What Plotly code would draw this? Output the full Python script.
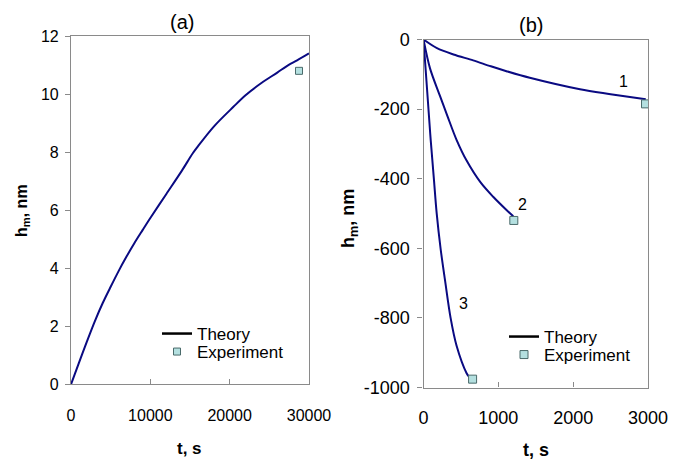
import plotly.graph_objects as go

# Panel (a): growth of h_m with time
t_a = [0, 1000, 2000, 3000, 4000, 5000, 6000, 7000, 8000, 9040, 10000,
       12000, 14000, 15350, 16000, 18000, 20470, 22000, 24000, 26000,
       27400, 28500, 30000]
h_a = [0, 0.74, 1.47, 2.17, 2.8, 3.36, 3.9, 4.4, 4.87, 5.32, 5.73,
       6.55, 7.37, 7.96, 8.2, 8.88, 9.56, 9.96, 10.38, 10.74,
       11.0, 11.16, 11.4]
t_a_exp = [28740]
h_a_exp = [10.8]
x_ticks_a = [0, 10000, 20000, 30000]
y_ticks_a = [0, 2, 4, 6, 8, 10, 12]

# Panel (b): three theory curves with their end-point measurements
t_b1 = [0, 180, 400, 664, 900, 1109, 1420, 2091, 2500, 2970]
h_b1 = [0, -25, -43, -60, -77, -91, -110, -143, -157, -172]
t_b2 = [0, 87, 220, 320, 443, 576, 760, 931, 1109, 1200]
h_b2 = [0, -83, -162, -220, -289, -348, -410, -452, -490, -508]
t_b3 = [0, 91, 140, 176, 229, 287, 362, 442, 576, 607]
h_b3 = [0, -274, -404, -499, -602, -691, -800, -880, -959, -969]
t_b_exp = [2967, 1207, 656]
h_b_exp = [-185, -520, -976]
x_ticks_b = [0, 1000, 2000, 3000]
y_ticks_b = [0, -200, -400, -600, -800, -1000]

curve_labels = ["1", "2", "3"]
label_t = [2670, 1322, 531]
label_h = [-121, -473, -758]

W, H = 694, 459
NAVY = "#0a0a82"
FRAME = "#8a8a8a"
MK_FILL = "#b4e0e0"
MK_LINE = "#4a6a6a"
FONT = "Liberation Sans, Arial, sans-serif"


def px_x(p):
    return p / W


def px_y(p):
    return 1 - p / H


fig = go.Figure()

# ---- panel (a)
fig.add_trace(go.Scatter(x=t_a, y=h_a, mode="lines",
                         line=dict(color=NAVY, width=2, shape="spline", smoothing=0.9),
                         xaxis="x", yaxis="y", showlegend=False, hoverinfo="skip"))
fig.add_trace(go.Scatter(x=[None], y=[None], mode="lines", name="Theory",
                         line=dict(color="black", width=2.5), xaxis="x", yaxis="y",
                         legend="legend"))
fig.add_trace(go.Scatter(x=t_a_exp, y=h_a_exp, mode="markers", name="Experiment",
                         marker=dict(symbol="square", size=7, color=MK_FILL,
                                     line=dict(color=MK_LINE, width=1)),
                         xaxis="x", yaxis="y", legend="legend3"))

# ---- panel (b)
for tt, hh in [(t_b1, h_b1), (t_b2, h_b2), (t_b3, h_b3)]:
    fig.add_trace(go.Scatter(x=tt, y=hh, mode="lines",
                             line=dict(color=NAVY, width=2, shape="spline", smoothing=0.9),
                             xaxis="x2", yaxis="y2", showlegend=False, hoverinfo="skip"))
fig.add_trace(go.Scatter(x=[None], y=[None], mode="lines", name="Theory",
                         line=dict(color="black", width=2.5), xaxis="x2", yaxis="y2",
                         legend="legend2"))
fig.add_trace(go.Scatter(x=t_b_exp, y=h_b_exp, mode="markers", name="Experiment",
                         marker=dict(symbol="square", size=8, color=MK_FILL,
                                     line=dict(color=MK_LINE, width=1)),
                         xaxis="x2", yaxis="y2", legend="legend4"))


def axis(size, tick_values, **kw):
    # tick labels written with a plain hyphen for negatives
    base = dict(showline=True, mirror=True, linecolor=FRAME, linewidth=1.2,
                showgrid=False, zeroline=False, tickcolor=FRAME, ticklen=5,
                automargin=False, tickmode="array", tickvals=tick_values,
                ticktext=[str(v) for v in tick_values],
                tickfont=dict(family=FONT, size=size, color="black"))
    base.update(kw)
    return base


def legend_at(x, y):
    return dict(x=px_x(x), y=px_y(y), xanchor="left", yanchor="middle",
                bgcolor="rgba(0,0,0,0)", font=dict(family=FONT, size=17),
                itemwidth=30, tracegroupgap=0)


fig.update_layout(
    width=W, height=H,
    margin=dict(l=0, r=0, t=0, b=0, autoexpand=False),
    paper_bgcolor="white", plot_bgcolor="white",
    font=dict(family=FONT, color="black"),
    xaxis=axis(16, x_ticks_a, domain=[px_x(71), px_x(309)], range=[0, 30000],
               ticks="inside", anchor="y", ticklabelstandoff=16),
    yaxis=axis(16, y_ticks_a, domain=[px_y(384.3), px_y(36)], range=[0, 12],
               ticks="outside", anchor="x", ticklabelstandoff=3),
    xaxis2=axis(18, x_ticks_b, domain=[px_x(423.5), px_x(648)], range=[0, 3000],
                ticks="inside", anchor="y2", ticklabelstandoff=14),
    yaxis2=axis(18, y_ticks_b, domain=[px_y(387.5), px_y(39.5)], range=[-1000, 0],
                ticks="outside", anchor="x2", ticklabelstandoff=4),
    legend=legend_at(157, 334),
    legend3=legend_at(157, 352),
    legend2=legend_at(504, 337),
    legend4=legend_at(504, 355),
)


def text_at(text, x, y, size, angle=0):
    return dict(text=text, x=px_x(x), y=px_y(y), xref="paper", yref="paper",
                xanchor="center", yanchor="middle", showarrow=False,
                textangle=angle, font=dict(size=size))


ann = [
    # panel titles
    text_at("(a)", 182, 22, 20),
    text_at("(b)", 531, 25, 20),
    # axis titles
    text_at("<b>t, s</b>", 189, 448, 17),
    text_at("<b>t, s</b>", 536, 450, 18),
    text_at("<b>h<sub>m</sub>, nm</b>", 22, 211, 16, -90),
    text_at("<b>h<sub>m</sub>, nm</b>", 349, 219, 18, -90),
]
# curve numbers
for lbl, tx, hy in zip(curve_labels, label_t, label_h):
    ann.append(dict(text=lbl, x=tx, y=hy, xref="x2", yref="y2", showarrow=False,
                    xanchor="center", yanchor="middle", font=dict(size=16)))
fig.update_layout(annotations=ann)

fig.write_html("out.html")
